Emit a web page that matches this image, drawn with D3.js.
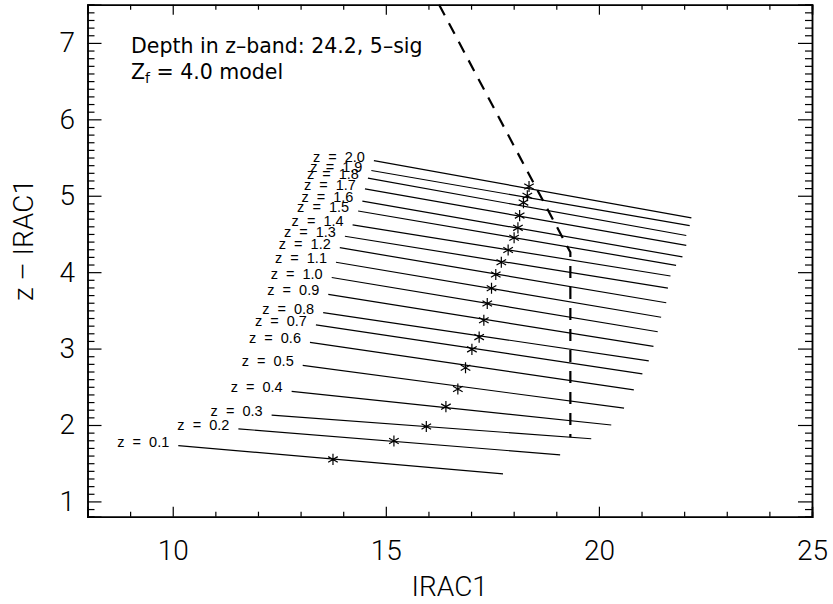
<!DOCTYPE html>
<html>
<head>
<meta charset="utf-8">
<script src="https://d3js.org/d3.v7.min.js"></script>
<style>
  body { margin: 0; background: #fff; }
  .axis path, .axis line { stroke: #000; }
  .tick text { font-family: Roboto, "Liberation Sans", sans-serif; font-weight: 300; fill: #000; }
</style>
</head>
<body>
<div class="chart"></div>
<script>
var svgWidth = 833;
var svgHeight = 604;

// redshift tracks: label, start / end of each track, and the marked point
var zLabels = ["0.1", "0.2", "0.3", "0.4", "0.5", "0.6", "0.7", "0.8", "0.9", "1.0",
               "1.1", "1.2", "1.3", "1.4", "1.5", "1.6", "1.7", "1.8", "1.9", "2.0"];
var startX = [10.13, 11.54, 12.32, 12.79, 13.05, 13.22, 13.36, 13.53, 13.65, 13.73,
              13.83, 13.92, 14.04, 14.22, 14.35, 14.45, 14.51, 14.58, 14.66, 14.72];
var startY = [1.73, 1.95, 2.13, 2.44, 2.78, 3.08, 3.31, 3.47, 3.71, 3.93,
              4.13, 4.32, 4.47, 4.62, 4.80, 4.93, 5.09, 5.23, 5.33, 5.46];
var endX = [17.75, 19.09, 19.82, 20.29, 20.59, 20.82, 21.02, 21.17, 21.28, 21.38,
            21.46, 21.58, 21.62, 21.68, 21.81, 21.96, 22.05, 22.05, 22.13, 22.17];
var endY = [1.36, 1.61, 1.82, 2.00, 2.22, 2.46, 2.67, 2.84, 3.03, 3.22,
            3.41, 3.60, 3.79, 3.95, 4.09, 4.20, 4.35, 4.48, 4.61, 4.71];
var starX = [13.76, 15.19, 15.95, 16.41, 16.69, 16.87, 17.02, 17.19, 17.30, 17.38,
             17.48, 17.58, 17.71, 17.87, 18.01, 18.10, 18.14, 18.23, 18.32, 18.36];
var starY = [1.55, 1.79, 1.98, 2.24, 2.47, 2.75, 2.99, 3.15, 3.37, 3.59,
             3.79, 3.97, 4.13, 4.29, 4.45, 4.58, 4.74, 4.91, 5.00, 5.12];

// depth limit (dashed)
var limitX = [16.25, 19.33, 19.33];
var limitY = [7.5, 4.26, 1.84];

var xMajor = [10, 15, 20, 25];
var xMinor = [9, 11, 12, 13, 14, 16, 17, 18, 19, 21, 22, 23, 24];
var yMajor = [1, 2, 3, 4, 5, 6, 7];
var yMinor = d3.range(8, 76).map(d => d / 10).filter(d => Math.abs(d - Math.round(d)) > 0.01);

var plotLeft = 87.5, plotRight = 812, plotTop = 4.7, plotBottom = 516.7;

var svg = d3.select(".chart")
  .append("svg")
  .attr("width", svgWidth)
  .attr("height", svgHeight);

var xScale = d3.scaleLinear().domain([8, 25]).range([plotLeft, plotRight]);
var yScale = d3.scaleLinear().domain([0.8, 7.5]).range([plotBottom, plotTop]);

// axes, ticks pointing inward on all four sides
function addAxis(axis, tx, ty) {
  var g = svg.append("g").attr("class", "axis")
    .attr("transform", `translate(${tx}, ${ty})`)
    .call(axis);
  g.select(".domain").attr("stroke-width", 1.5);
  g.selectAll(".tick line").attr("stroke-width", 1.2);
  return g;
}

addAxis(d3.axisBottom(xScale).tickValues(xMajor).tickSize(-10).tickPadding(23).tickFormat(d3.format("d")), 0, plotBottom)
  .selectAll("text").attr("font-size", 28);
addAxis(d3.axisBottom(xScale).tickValues(xMinor).tickSize(-5).tickFormat(""), 0, plotBottom);
addAxis(d3.axisTop(xScale).tickValues(xMajor).tickSize(-10).tickFormat(""), 0, plotTop);
addAxis(d3.axisTop(xScale).tickValues(xMinor).tickSize(-5).tickFormat(""), 0, plotTop);

addAxis(d3.axisLeft(yScale).tickValues(yMajor).tickSize(-14).tickPadding(12.5).tickFormat(d3.format("d")), plotLeft, 0)
  .selectAll("text").attr("font-size", 28);
addAxis(d3.axisLeft(yScale).tickValues(yMinor).tickSize(-7).tickFormat(""), plotLeft, 0);
addAxis(d3.axisRight(yScale).tickValues(yMajor).tickSize(-14).tickFormat(""), plotRight, 0);
addAxis(d3.axisRight(yScale).tickValues(yMinor).tickSize(-7).tickFormat(""), plotRight, 0);

// axis titles
svg.append("text")
  .attr("x", (plotLeft + plotRight) / 2)
  .attr("y", 596)
  .attr("text-anchor", "middle")
  .attr("font-family", "Roboto, sans-serif")
  .attr("font-weight", 300)
  .attr("font-size", 28)
  .text("IRAC1");

svg.append("text")
  .attr("transform", "translate(33, 240) rotate(-90)")
  .attr("text-anchor", "middle")
  .attr("font-family", "Roboto, sans-serif")
  .attr("font-weight", 300)
  .attr("font-size", 28)
  .text("z \u2013 IRAC1");

// tracks
var tracks = zLabels.map((z, i) => ({
  z: z, x0: startX[i], y0: startY[i], x1: endX[i], y1: endY[i], sx: starX[i], sy: starY[i]
}));

svg.selectAll(".track")
  .data(tracks)
  .enter()
  .append("line")
  .attr("class", "track")
  .attr("x1", d => xScale(d.x0))
  .attr("y1", d => yScale(d.y0))
  .attr("x2", d => xScale(d.x1))
  .attr("y2", d => yScale(d.y1))
  .attr("stroke", "#000")
  .attr("stroke-width", 1.2);

svg.selectAll(".zlab")
  .data(tracks)
  .enter()
  .append("text")
  .attr("class", "zlab")
  .attr("x", d => xScale(d.x0) - 9)
  .attr("y", d => yScale(d.y0) + 1)
  .attr("text-anchor", "end")
  .attr("font-family", "Liberation Sans, Arial, sans-serif")
  .attr("font-size", 14.5)
  .attr("fill", "#000")
  .attr("xml:space", "preserve")
  .text(d => "z  =  " + d.z);

var star = d3.symbol().type(d3.symbolAsterisk).size(86);
svg.selectAll(".star")
  .data(tracks)
  .enter()
  .append("path")
  .attr("class", "star")
  .attr("transform", d => `translate(${xScale(d.sx)}, ${yScale(d.sy)})`)
  .attr("d", star)
  .attr("fill", "none")
  .attr("stroke", "#000")
  .attr("stroke-width", 1.2);

// dashed depth limit
var limitLine = d3.line().x(d => xScale(d[0])).y(d => yScale(d[1]));
svg.append("path")
  .datum(limitX.map((v, i) => [v, limitY[i]]))
  .attr("d", limitLine)
  .attr("fill", "none")
  .attr("stroke", "#000")
  .attr("stroke-width", 2.2)
  .attr("stroke-dasharray", "12,9");

// annotation
var note = svg.append("text")
  .attr("font-family", "DejaVu Sans, sans-serif")
  .attr("font-size", 20.5)
  .attr("fill", "#000");
note.append("tspan").attr("x", 131).attr("y", 53).text("Depth in z\u2013band: 24.2, 5\u2013sig");
note.append("tspan").attr("x", 131).attr("y", 79).text("Z");
note.append("tspan").attr("font-size", 14).attr("dy", 4).text("f");
note.append("tspan").attr("dy", -4).text(" = 4.0 model");
</script>
</body>
</html>
